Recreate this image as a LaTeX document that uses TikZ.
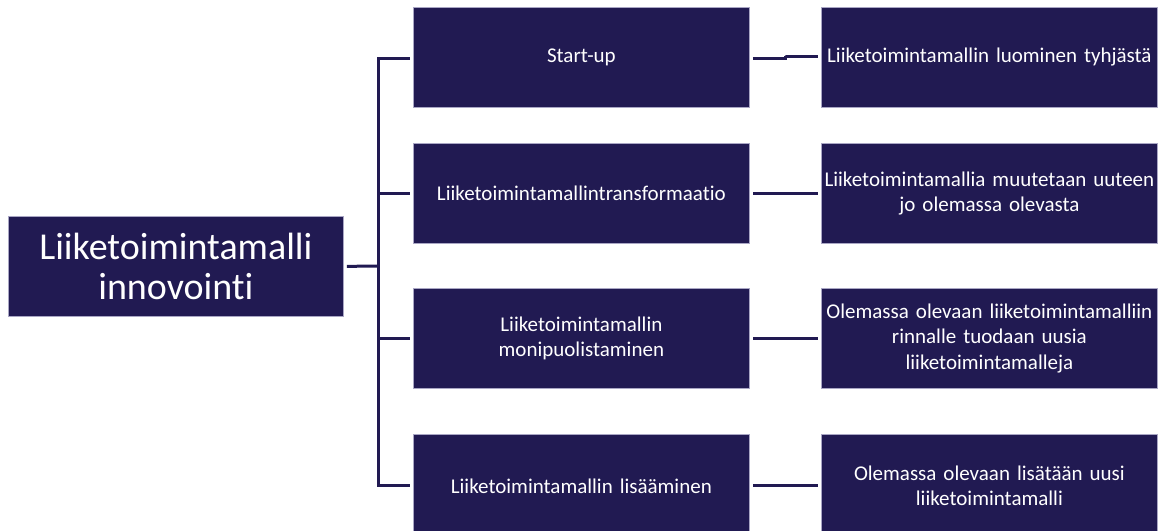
\documentclass[tikz,border=0pt]{standalone}
\usepackage{fontspec}
\setmainfont{Carlito}[RawFeature={-liga}]
\definecolor{navy}{HTML}{211A52}
\definecolor{edge}{HTML}{A9A6C4}

\begin{document}
\begin{tikzpicture}[x=1pt, y=-1pt,
	box/.style={rectangle, fill=navy, draw=edge, line width=0.8pt, anchor=north west,
		minimum width=336pt, minimum height=100pt, text width=334pt, align=center,
		text=white, font=\fontsize{21}{25.5}\selectfont, inner sep=0pt},
	link/.style={draw=navy, line width=3pt, line cap=rect, shorten <=4.5pt, shorten >=4.5pt}]
	\useasboundingbox (0,0) rectangle (1159,530);

	\node[box, minimum width=335pt, font=\fontsize{38}{40}\selectfont](root) at (8,216) {Liiketoimintamalli\\innovointi};

	\node[box](m1) at (413,7) {Start-up};
	\node[box](m2) at (413,143) {Liiketoimintamallintransformaatio};
	\node[box](m3) at (413,288) {Liiketoimintamallin\\monipuolistaminen};
	\node[box, minimum height=103pt](m4) at (413,434) {Liiketoimintamallin lis\"a\"aminen};

	\node[box](r1) at (821,7) {Liiketoimintamallin luominen tyhj\"ast\"a};
	\node[box](r2) at (821,143) {Liiketoimintamallia muutetaan uuteen\\jo olemassa olevasta};
	\node[box](r3) at (821,288) {Olemassa olevaan liiketoimintamalliin\\rinnalle tuodaan uusia\\liiketoimintamalleja};
	\node[box, minimum height=103pt](r4) at (821,434) {Olemassa olevaan lis\"at\"a\"an uusi\\liiketoimintamalli};

	\coordinate(hub) at (378,266);
	\coordinate(jog) at (785,57);

	\draw[link, shorten >=0pt](root.east) -- (hub);
	\draw[link, shorten <=0pt](hub) |- ([yshift=-1pt]m1.west);
	\draw[link, shorten <=0pt](hub) |- (m2.west);
	\draw[link, shorten <=0pt](hub) |- (m3.west);
	\draw[link, shorten <=0pt](hub) |- (m4.west);

	\draw[link, line cap=butt, shorten <=3pt, shorten >=0pt]([yshift=-1pt]m1.east) -| ([yshift=-1pt]jog);
	\draw[link, line cap=butt, shorten <=0pt, shorten >=3pt]([yshift=1pt]jog) |- ([yshift=1pt]r1.west);
	\draw[link](m2.east) -- (r2.west);
	\draw[link](m3.east) -- (r3.west);
	\draw[link](m4.east) -- (r4.west);
\end{tikzpicture}
\end{document}
